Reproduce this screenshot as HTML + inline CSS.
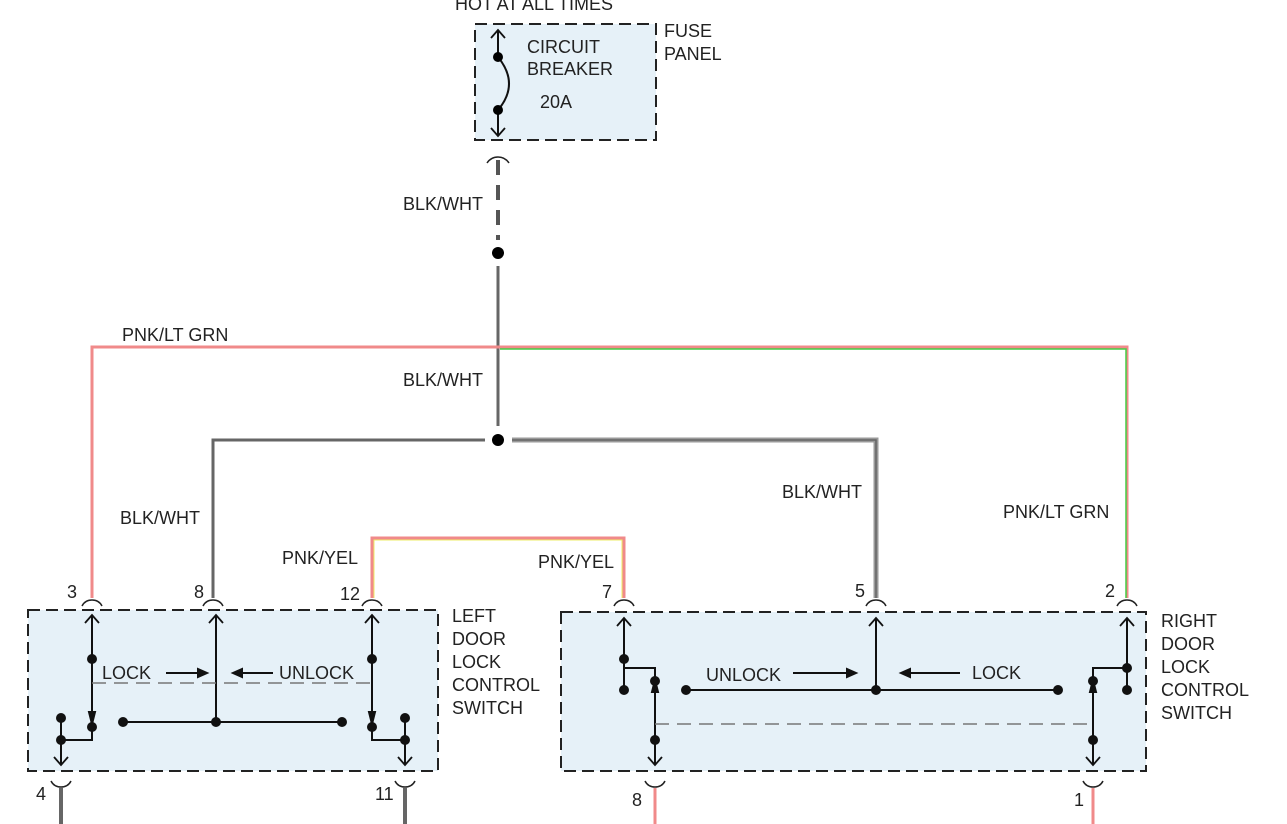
<!DOCTYPE html>
<html><head><style>
html,body{margin:0;padding:0;background:#fff;width:1287px;height:824px;overflow:hidden}
svg text{font-family:"Liberation Sans",Arial,sans-serif;font-size:18px;fill:#222}
</style></head><body>
<svg width="1287" height="824" xmlns="http://www.w3.org/2000/svg">
<!-- boxes -->
<rect x="475" y="24" width="181" height="116" fill="#e6f1f8" stroke="#222" stroke-width="2" stroke-dasharray="12,6"/>
<rect x="28" y="610" width="410" height="161" fill="#e6f1f8" stroke="#222" stroke-width="2" stroke-dasharray="12,6"/>
<rect x="561" y="612" width="585" height="159" fill="#e6f1f8" stroke="#222" stroke-width="2" stroke-dasharray="12,6"/>
<!-- texts -->
<text x="455" y="10">HOT AT ALL TIMES</text>
<text x="527" y="53">CIRCUIT</text><text x="527" y="75">BREAKER</text><text x="540" y="108">20A</text>
<text x="664" y="37">FUSE</text><text x="664" y="60">PANEL</text>
<text x="403" y="210">BLK/WHT</text><text x="403" y="386">BLK/WHT</text>
<text x="120" y="524">BLK/WHT</text><text x="782" y="498">BLK/WHT</text>
<text x="122" y="341">PNK/LT GRN</text><text x="1003" y="518">PNK/LT GRN</text>
<text x="282" y="564">PNK/YEL</text><text x="538" y="568">PNK/YEL</text>
<text x="452" y="622">LEFT</text><text x="452" y="645">DOOR</text><text x="452" y="668">LOCK</text><text x="452" y="691">CONTROL</text><text x="452" y="714">SWITCH</text>
<text x="1161" y="627">RIGHT</text><text x="1161" y="650">DOOR</text><text x="1161" y="673">LOCK</text><text x="1161" y="696">CONTROL</text><text x="1161" y="719">SWITCH</text>
<text x="67" y="598">3</text><text x="194" y="598">8</text><text x="340" y="600">12</text>
<text x="602" y="598">7</text><text x="855" y="597">5</text><text x="1105" y="597">2</text>
<text x="36" y="800">4</text><text x="375" y="800">11</text><text x="632" y="806">8</text><text x="1074" y="806">1</text>
<text x="102" y="679">LOCK</text><text x="279" y="679">UNLOCK</text>
<text x="706" y="681">UNLOCK</text><text x="972" y="679">LOCK</text>
<!-- breaker -->
<line x1="498" y1="30" x2="498" y2="136" stroke="#111" stroke-width="2"/>
<line x1="498" y1="59" x2="498" y2="108" stroke="#e6f1f8" stroke-width="4"/>
<path d="M498,57 Q520,84 498,110" stroke="#111" stroke-width="2" fill="none"/>
<circle cx="498" cy="57" r="5"/><circle cx="498" cy="110" r="5"/>
<!-- wires -->
<g fill="none" stroke-linecap="butt">
<line x1="498" y1="160" x2="498" y2="240" stroke="#555" stroke-width="4" stroke-dasharray="15,10"/>
<line x1="498" y1="266" x2="498" y2="426" stroke="#666" stroke-width="3"/>
<path d="M92,598 V347 H1127 V598" stroke="#f08a8a" stroke-width="3"/>
<path d="M500,349 H1126 V598" stroke="#4c4" stroke-width="1.5"/>
<path d="M485,440 H213 V598" stroke="#666" stroke-width="3"/>
<path d="M512,440 H876 V598" stroke="#999" stroke-width="5"/>
<path d="M512,440 H876 V598" stroke="#666" stroke-width="1.5"/>
<path d="M372,598 V538 H624 V598" stroke="#f08a8a" stroke-width="3"/>
<path d="M374,598 V540 H622 V598" stroke="#ee6" stroke-width="1"/>
<line x1="61" y1="788" x2="61" y2="824" stroke="#666" stroke-width="4"/>
<line x1="405" y1="788" x2="405" y2="824" stroke="#666" stroke-width="4"/>
<line x1="655" y1="788" x2="655" y2="824" stroke="#f08a8a" stroke-width="3"/>
<line x1="1093" y1="788" x2="1093" y2="824" stroke="#f08a8a" stroke-width="3"/>
</g>
<circle cx="498" cy="253" r="6"/><circle cx="498" cy="440" r="6"/>
<!-- connector cups -->
<g fill="none" stroke="#222" stroke-width="1.5">
<path d="M487,163 Q491,157 498,157 Q505,157 509,163"/>
<path d="M82,606 Q85,600 92,600 Q99,600 102,606"/><path d="M203,606 Q206,600 213,600 Q220,600 223,606"/>
<path d="M362,606 Q365,600 372,600 Q379,600 382,606"/><path d="M614,606 Q617,600 624,600 Q631,600 634,606"/>
<path d="M866,606 Q869,600 876,600 Q883,600 886,606"/><path d="M1117,606 Q1120,600 1127,600 Q1134,600 1137,606"/>
<path d="M51,781 Q54,787 61,787 Q68,787 71,781"/><path d="M395,781 Q398,787 405,787 Q412,787 415,781"/>
<path d="M645,781 Q648,787 655,787 Q662,787 665,781"/><path d="M1083,781 Q1086,787 1093,787 Q1100,787 1103,781"/>
</g>
<!-- open arrowheads -->
<g fill="none" stroke="#111" stroke-width="1.8">
<path d="M491,38 L498,30 L505,38"/><path d="M491,128 L498,136 L505,128"/>
<path d="M85,623 L92,615 L99,623"/><path d="M209,623 L216,615 L223,623"/><path d="M365,623 L372,615 L379,623"/>
<path d="M54,757 L61,765 L68,757"/><path d="M398,757 L405,765 L412,757"/>
<path d="M617,626 L624,618 L631,626"/><path d="M869,626 L876,618 L883,626"/><path d="M1120,626 L1127,618 L1134,626"/>
<path d="M648,757 L655,765 L662,757"/><path d="M1086,757 L1093,765 L1100,757"/>
</g>
<!-- left switch -->
<g stroke="#111" stroke-width="2" fill="none">
<line x1="92" y1="615" x2="92" y2="722"/><path d="M89,712 L92,724 L95,712Z" fill="#111"/>
<line x1="216" y1="615" x2="216" y2="722"/>
<line x1="372" y1="616" x2="372" y2="722"/><path d="M369,712 L372,724 L375,712Z" fill="#111"/>
<line x1="123" y1="722" x2="342" y2="722"/>
<path d="M61,718 V765"/><path d="M61,740 H92 V727"/>
<path d="M405,718 V765"/><path d="M405,740 H372 V727"/>
<line x1="166" y1="673" x2="200" y2="673"/><path d="M198,669 L207,673 L198,677Z" fill="#111"/>
<line x1="240" y1="673" x2="273" y2="673"/><path d="M242,669 L233,673 L242,677Z" fill="#111"/>
</g>
<line x1="92" y1="683" x2="372" y2="683" stroke="#777" stroke-width="1.5" stroke-dasharray="14,8"/>
<g fill="#111"><circle cx="92" cy="659" r="5"/><circle cx="92" cy="727" r="5"/><circle cx="61" cy="718" r="5"/><circle cx="61" cy="740" r="5"/>
<circle cx="216" cy="722" r="5"/><circle cx="123" cy="722" r="5"/><circle cx="342" cy="722" r="5"/>
<circle cx="372" cy="659" r="5"/><circle cx="372" cy="727" r="5"/><circle cx="405" cy="718" r="5"/><circle cx="405" cy="740" r="5"/></g>
<!-- right switch -->
<g stroke="#111" stroke-width="2" fill="none">
<line x1="624" y1="618" x2="624" y2="690"/><path d="M624,668 H655 V681"/>
<line x1="655" y1="681" x2="655" y2="765"/><path d="M652,692 L655,680 L658,692Z" fill="#111"/>
<line x1="876" y1="618" x2="876" y2="690"/>
<line x1="686" y1="690" x2="1058" y2="690"/>
<line x1="1127" y1="618" x2="1127" y2="690"/><path d="M1127,668 H1093 V681"/>
<line x1="1093" y1="681" x2="1093" y2="765"/><path d="M1090,692 L1093,680 L1096,692Z" fill="#111"/>
<line x1="793" y1="673" x2="849" y2="673"/><path d="M847,669 L856,673 L847,677Z" fill="#111"/>
<line x1="908" y1="673" x2="960" y2="673"/><path d="M910,669 L901,673 L910,677Z" fill="#111"/>
</g>
<line x1="655" y1="724" x2="1093" y2="724" stroke="#777" stroke-width="1.5" stroke-dasharray="14,8"/>
<g fill="#111"><circle cx="624" cy="659" r="5"/><circle cx="624" cy="690" r="5"/><circle cx="655" cy="681" r="5"/><circle cx="655" cy="740" r="5"/>
<circle cx="686" cy="690" r="5"/><circle cx="876" cy="690" r="5"/><circle cx="1058" cy="690" r="5"/>
<circle cx="1127" cy="668" r="5"/><circle cx="1127" cy="690" r="5"/><circle cx="1093" cy="681" r="5"/><circle cx="1093" cy="740" r="5"/></g>
</svg>
</body></html>
